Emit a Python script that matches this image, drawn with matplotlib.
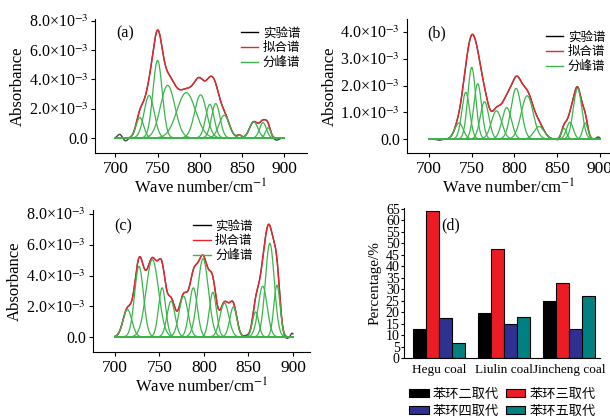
import matplotlib.pyplot as plt
import numpy as np
from matplotlib.ticker import FuncFormatter, MultipleLocator
from matplotlib.lines import Line2D

plt.rcParams['font.family'] = ['Liberation Serif', 'Noto Sans CJK SC']
plt.rcParams['mathtext.fontset'] = 'stix'

# 分峰参数: 峰位 (cm-1), 峰高 (x1e-3), 半宽 sigma (cm-1)
a_center = [729, 740, 750, 762, 784, 801, 812, 819, 829, 847, 864, 875, 881]
a_height = [1.4, 2.9, 5.3, 3.6, 3.1, 2.95, 2.3, 2.35, 1.55, 0.2, 1.1, 1.05, 0.7]
a_sigma = [4.5, 6, 5.5, 8.5, 11, 7, 5, 5, 6, 2.5, 5, 4, 3]

b_center = [735, 743, 750, 757, 765, 779, 791, 802, 815, 829, 858, 865, 874, 883]
b_height = [0.6, 1.75, 2.68, 2.07, 1.4, 1.06, 1.18, 1.9, 1.62, 0.47, 0.4, 0.63, 1.9, 0.6]
b_sigma = [5, 4.6, 4.6, 4.6, 5, 6, 5.5, 6, 7, 6, 3, 4, 5, 3]

c_center = [714, 727, 742, 753, 763, 777, 788, 799, 810, 823, 833, 858, 866, 874, 882]
c_height = [1.78, 4.6, 5.05, 3.2, 2.33, 2.65, 3.2, 5.1, 2.9, 2.2, 1.95, 1.63, 3.3, 6.1, 3.37]
c_sigma = [5, 5, 7, 4, 4.5, 5, 4.5, 6, 4, 5, 4, 3.5, 5, 5, 3.5]

# 实验谱在边缘处偏离拟合谱的小特征 (峰位, 峰高, sigma)
a_extra = [(705, 0.25, 2.5), (712, -0.2, 2.5), (891, -0.15, 3)]
b_extra = [(712, -0.04, 3), (852, -0.05, 2.5), (898, 0.08, 2)]
c_extra = [(848, 0.08, 3), (892, -0.12, 3), (899, 0.25, 1.5)]

# (d) 柱状图数据
coals = ['Hegu coal', 'Liulin coal', 'Jincheng coal']
sub_labels = ['苯环二取代', '苯环三取代', '苯环四取代', '苯环五取代']
di = [12.5, 19.5, 25]
tri = [64, 47.5, 32.5]
tetra = [17.5, 15, 12.5]
penta = [6.5, 18, 27]

leg_labels = ['实验谱', '拟合谱', '分峰谱']

green = '#3bb54a'
red = '#e8262b'
cjk = ['Noto Sans CJK SC']

fig = plt.figure(figsize=(6.1, 4.17), dpi=100)

x = np.linspace(700, 900, 801)


def gauss(c, h, s):
    return h * 1e-3 * np.exp(-(x - c) ** 2 / (2 * s ** 2))


def ytick_fmt(v, pos):
    if abs(v) < 1e-9:
        return '0.0'
    return '%.1f×10$^{-3}$' % (v * 1e3)


def spectrum(ax, cen, hei, sig, extra, ylim, ystep, xlim, tag):
    peaks = [gauss(c, h, s) for c, h, s in zip(cen, hei, sig)]
    fit = np.sum(peaks, axis=0)
    exp = fit + np.sum([gauss(c, h, s) for c, h, s in extra], axis=0)
    ax.plot(x, exp, color='#444444', lw=1.0, zorder=1)
    ax.plot(x, fit, color=red, lw=1.0, zorder=2)
    for p in peaks:
        ax.plot(x, p, color=green, lw=0.9, zorder=3)
    ax.set_xlim(xlim)
    ax.set_ylim(ylim)
    ax.xaxis.set_major_locator(MultipleLocator(50))
    ax.yaxis.set_major_locator(MultipleLocator(ystep))
    ax.yaxis.set_major_formatter(FuncFormatter(ytick_fmt))
    ax.spines['right'].set_color('none')
    ax.spines['top'].set_color('none')
    ax.tick_params(direction='out', length=3)
    ax.tick_params(axis='y', labelsize=11.5, pad=2)
    ax.tick_params(axis='x', labelsize=12.5, pad=3)
    ax.set_xlabel('Wave number/cm$^{-1}$', fontsize=12, labelpad=1)
    ax.set_ylabel('Absorbance', fontsize=12, labelpad=2)
    ax.text(0.1, 0.86, tag, transform=ax.transAxes, fontsize=11.5)
    handles = [Line2D([], [], color='k', lw=1), Line2D([], [], color=red, lw=1),
               Line2D([], [], color=green, lw=1)]
    return handles


def spec_legend(ax, h, xa, ya):
    ax.legend(h, leg_labels, loc='upper left', bbox_to_anchor=(xa, ya), frameon=False,
              prop={'family': cjk, 'size': 9}, handlelength=1.4, handletextpad=0.35,
              labelspacing=0.15, borderaxespad=0)


ax1 = fig.add_axes([0.156, 0.633, 0.347, 0.322])
h = spectrum(ax1, a_center, a_height, a_sigma, a_extra, (-1.03e-3, 8.15e-3), 2e-3,
             (676, 927), '(a)')
spec_legend(ax1, h, 0.665, 0.98)

ax2 = fig.add_axes([0.667, 0.633, 0.333, 0.322])
h = spectrum(ax2, b_center, b_height, b_sigma, b_extra, (-0.52e-3, 4.5e-3), 1e-3,
             (674, 912), '(b)')
spec_legend(ax2, h, 0.66, 0.95)

ax3 = fig.add_axes([0.152, 0.156, 0.356, 0.34])
h = spectrum(ax3, c_center, c_height, c_sigma, c_extra, (-0.98e-3, 8.26e-3), 2e-3,
             (675, 919), '(c)')
spec_legend(ax3, h, 0.44, 0.97)

# (d)
ax4 = fig.add_axes([0.662, 0.141, 0.322, 0.36])
pos = np.arange(len(coals))
w = 0.2
series = [di, tri, tetra, penta]
colors = ['#000000', '#ed1c24', '#2e3192', '#008080']
bars = []
for i, (vals, col) in enumerate(zip(series, colors)):
    b = ax4.bar(pos + (i - 1.5) * w, vals, w, color=col, edgecolor='k', linewidth=0.8)
    bars.append(b)
ax4.set_xlim(-0.54, 2.48)
ax4.set_ylim(0, 65.3)
ax4.yaxis.set_major_locator(MultipleLocator(5))
ax4.set_xticks(pos)
ax4.set_xticklabels(coals)
ax4.spines['right'].set_color('none')
ax4.spines['top'].set_color('none')
ax4.tick_params(axis='y', direction='out', length=2, labelsize=10, pad=1)
ax4.tick_params(axis='x', length=0, labelsize=9.5, pad=4)
ax4.set_ylabel('Percentage/%', fontsize=11, labelpad=3)
ax4.text(0.19, 0.86, '(d)', transform=ax4.transAxes, fontsize=11.5)
order = [0, 2, 1, 3]
ax4.legend([bars[i] for i in order], [sub_labels[i] for i in order],
           loc='upper left', bbox_to_anchor=(0.0, -0.16), ncol=2, frameon=False,
           prop={'family': cjk, 'size': 9.5}, handlelength=1.5, handleheight=0.55,
           handletextpad=0.3, columnspacing=0.5, labelspacing=0.35, borderaxespad=0)

fig.savefig('out.png', dpi=100)
